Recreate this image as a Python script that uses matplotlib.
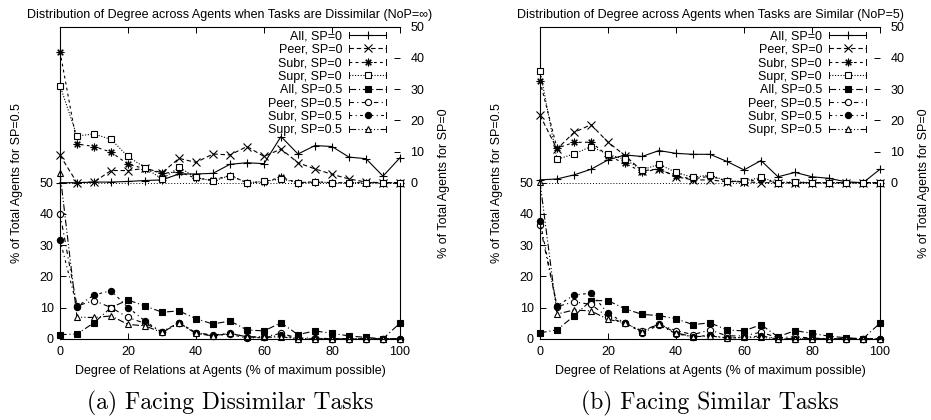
import numpy as np
import matplotlib.pyplot as plt
from matplotlib.lines import Line2D
from matplotlib.legend_handler import HandlerLine2D

plt.rcParams['font.family'] = ['Liberation Sans', 'DejaVu Sans']
plt.rcParams['font.size'] = 9
plt.rcParams['xtick.direction'] = 'in'
plt.rcParams['ytick.direction'] = 'in'

# %% Data

degree = list(range(0, 101, 5))   # % of maximum possible degree

# (a) dissimilar tasks -- SP=0 on the right axis, SP=0.5 on the left axis
a_all_sp0 = [0, 0, 0.2, 0.2, 0.4, 0.7, 0.9, 2.8, 2.8, 3.0, 5.9, 6.4, 6.1, 14.8, 9.2, 11.9, 11.6, 8.2, 7.7, 2.1, 8.0]
a_peer_sp0 = [8.8, 0, 0.2, 3.9, 3.9, 4.6, 3.2, 7.8, 6.5, 9.2, 8.9, 11.6, 8.4, 10.8, 6.4, 4.4, 2.7, 1.2, 0.2, 0, 0]
a_subr_sp0 = [42.0, 12.4, 11.6, 9.8, 5.9, 4.5, 3.0, 3.5, 1.4, 0.9, 2.3, 0, 0.3, 1.7, 0, 0.3, 0, 0, 0, 0, 0]
a_supr_sp0 = [31.1, 15.0, 15.6, 13.9, 8.4, 4.8, 1.2, 4.9, 1.7, 0.5, 2.3, 0, 0.4, 1.2, 0, 0.2, 0, 0, 0, 0, 0]
a_all_sp5 = [1.3, 1.5, 5.1, 10.0, 12.4, 10.5, 8.5, 8.9, 6.4, 4.7, 5.7, 2.8, 2.5, 5.1, 1.3, 2.5, 1.7, 0.9, 0.4, 0, 5.0]
a_peer_sp5 = [40.1, 10.5, 12.2, 10.0, 6.8, 4.9, 2.3, 5.1, 1.9, 1.2, 1.7, 0.6, 0.6, 1.7, 0.2, 0.2, 0, 0, 0, 0, 0]
a_subr_sp5 = [31.7, 10.3, 14.0, 15.4, 10.0, 5.7, 2.0, 5.1, 1.9, 0.9, 1.4, 0.2, 0.4, 1.1, 0, 0, 0, 0, 0, 0, 0]
a_supr_sp5 = [53.0, 6.9, 6.8, 7.3, 4.6, 4.1, 2.0, 4.9, 1.7, 0.9, 1.7, 0.6, 0.4, 0.6, 0, 0, 0, 0, 0, 0, 0]

# (b) similar tasks
b_all_sp0 = [0.9, 1.2, 2.5, 4.3, 7.3, 8.9, 8.4, 10.3, 9.4, 9.1, 9.1, 6.8, 4.1, 7.1, 1.9, 3.3, 1.9, 1.4, 0.3, 0, 4.3]
b_peer_sp0 = [21.6, 10.8, 16.1, 18.6, 13.0, 8.7, 3.8, 4.4, 1.9, 0.9, 0.9, 0.3, 0.3, 0, 0, 0, 0, 0, 0, 0, 0]
b_subr_sp0 = [32.5, 11.1, 12.9, 13.0, 8.6, 6.2, 3.5, 4.3, 2.1, 1.2, 2.1, 0.5, 0.3, 1.1, 0, 0, 0, 0, 0, 0, 0]
b_supr_sp0 = [35.9, 7.5, 9.2, 11.6, 9.1, 7.5, 4.1, 5.9, 3.3, 1.7, 2.5, 0.5, 0.5, 1.7, 0, 0.3, 0, 0, 0, 0, 0]
b_all_sp5 = [1.9, 2.8, 7.3, 12.2, 12.2, 9.6, 7.8, 7.4, 6.4, 4.5, 5.1, 2.8, 2.5, 4.5, 0.6, 2.6, 1.7, 0.8, 0.3, 0, 5.0]
b_peer_sp5 = [36.3, 10.3, 11.8, 11.0, 6.9, 4.9, 2.6, 4.6, 2.6, 1.3, 2.8, 0.9, 0.9, 2.1, 0.3, 0.6, 0.2, 0, 0, 0, 0]
b_subr_sp5 = [37.8, 10.5, 14.0, 14.6, 8.1, 5.1, 1.9, 4.3, 1.6, 0.6, 1.1, 0.2, 0.4, 0.9, 0, 0, 0, 0, 0, 0, 0]
b_supr_sp5 = [50.2, 7.9, 9.2, 8.9, 6.2, 5.1, 2.3, 4.7, 1.9, 0.6, 0.9, 0.2, 0.4, 0.4, 0, 0, 0, 0, 0, 0, 0]

series_labels = ["All, SP=0", "Peer, SP=0", "Subr, SP=0", "Supr, SP=0",
                 "All, SP=0.5", "Peer, SP=0.5", "Subr, SP=0.5", "Supr, SP=0.5"]

titles = ["Distribution of Degree across Agents when Tasks are Dissimilar (NoP=\u221e)",
          "Distribution of Degree across Agents when Tasks are Similar (NoP=5)"]
captions = ["(a) Facing Dissimilar Tasks", "(b) Facing Similar Tasks"]

panels = [[a_all_sp0, a_peer_sp0, a_subr_sp0, a_supr_sp0,
           a_all_sp5, a_peer_sp5, a_subr_sp5, a_supr_sp5],
          [b_all_sp0, b_peer_sp0, b_subr_sp0, b_supr_sp0,
           b_all_sp5, b_peer_sp5, b_subr_sp5, b_supr_sp5]]

# gnuplot-ish line types: (dashes, marker, filled)
styles = [('-', '+', True),
          ((0, (4, 2.5)), 'x', True),
          ((0, (2.5, 3)), (8, 2, 0), True),
          ((0, (1, 1.5)), 's', False),
          ((0, (6, 2.5, 1, 2.5)), 's', True),
          ((0, (4, 3, 1, 3)), 'o', False),
          ((0, (2.5, 3, 1, 3)), 'o', True),
          ((0, (6, 2, 1, 2, 1, 2)), '^', False)]


class CapHandler(HandlerLine2D):
    # key sample looks like  |---o---|  in gnuplot
    def create_artists(self, legend, orig_handle, xdescent, ydescent,
                       width, height, fontsize, trans):
        arts = super().create_artists(legend, orig_handle, xdescent, ydescent,
                                      width, height, fontsize, trans)
        yc = (height - ydescent) / 2
        for xx in (-xdescent, -xdescent + width):
            arts.append(Line2D([xx, xx], [yc - 0.35 * height, yc + 0.35 * height],
                               color='black', lw=0.7, transform=trans))
        return arts


fig = plt.figure(figsize=(9.31, 4.2), dpi=100)
lefts = [60 / 931, 540 / 931]

for p in range(2):
    ax = fig.add_axes([lefts[p], 81.3 / 420, 340 / 931, 312 / 420])
    ax2 = ax.twinx()
    ax.set_xlim(0, 100)
    ax.set_ylim(0, 100)
    ax2.set_ylim(-50, 50)

    ax2.axhline(0, color='black', lw=0.7, ls=(0, (1, 2)))

    handles = []
    for i, vals in enumerate(panels[p]):
        ls, mk, filled = styles[i]
        target = ax2 if i < 4 else ax
        ln, = target.plot(degree, vals, color='black', lw=0.8, ls=ls,
                          marker=mk, ms=5.5 if mk not in ('s', 'o', '^') else 4.5,
                          mew=0.8, mfc='black' if filled else 'white',
                          clip_on=False, label=series_labels[i])
        handles.append(ln)

    ax.set_xticks(range(0, 101, 20))
    ax.set_yticks(range(0, 51, 10))
    ax2.set_yticks(range(0, 51, 10))
    ax.tick_params(axis='x', direction='in', length=4, width=0.7, top=True, pad=5)
    ax.tick_params(axis='y', direction='in', length=4, width=0.7, left=True, right=False, pad=4.5)
    ax2.tick_params(axis='y', which='both', direction='in', length=4, width=0.7,
                    left=False, right=True, labelleft=False, labelright=True, pad=7.5)

    for s in ['left', 'top', 'bottom']:
        ax2.spines[s].set_visible(False)
    ax.spines['right'].set_visible(False)
    ax2.spines['right'].set_bounds(-50, 0)
    for sp in list(ax.spines.values()) + list(ax2.spines.values()):
        sp.set_linewidth(0.8)

    ax.set_xlabel("Degree of Relations at Agents (% of maximum possible)", labelpad=5)
    ax.set_ylabel("% of Total Agents for SP=0.5", labelpad=12)
    ax2.set_ylabel("% of Total Agents for SP=0", labelpad=10)
    ax.set_title(titles[p], fontsize=9, pad=6)

    ax2.legend(handles=handles, loc='upper right', bbox_to_anchor=(0.96, 0.988),
               frameon=False, markerfirst=False, numpoints=1, borderpad=0,
               borderaxespad=0, handlelength=3.0, handletextpad=0.55,
               labelspacing=0.11, handler_map={Line2D: CapHandler()})

    pos = ax.get_position()
    fig.text(pos.x0 + pos.width / 2, 17 / 420, captions[p], ha='center', va='center',
             family='cmr10', fontsize=17)

fig.savefig("out.png", dpi=100)
